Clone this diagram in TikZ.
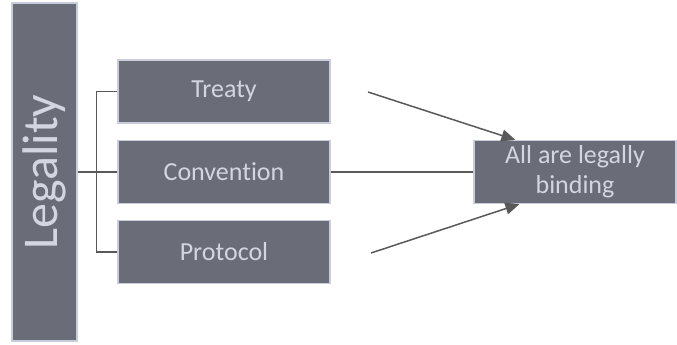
\documentclass[tikz,border=0pt]{standalone}
\usepackage{fontspec}
\setmainfont[Ligatures=NoCommon]{Carlito}
\usetikzlibrary{positioning, arrows.meta}
\definecolor{boxfill}{HTML}{6A6D77}
\definecolor{boxline}{HTML}{C9CDD9}
\definecolor{boxtext}{HTML}{D3D6E0}
\definecolor{linkgray}{HTML}{595959}

\begin{document}
\begin{tikzpicture}[
    x=1pt, y=-1pt,
    block/.style={rectangle, draw=boxline, line width=1.2pt, fill=boxfill, text=boxtext,
        align=center, inner sep=0pt, font=\fontsize{26}{30}\selectfont},
    item/.style={block, minimum width=212pt, minimum height=63pt},
    link/.style={draw=linkgray, line width=1.5pt},
    arr/.style={link, -{Triangle[length=14pt, width=12pt]}}
]
\useasboundingbox (0,0) rectangle (677,345);

% Main column
\node[block, rotate=90, minimum width=338pt, minimum height=65pt,
      font=\fontsize{50}{56}\selectfont] (legal) at (44.5,172) {Legality};

% Three instruments
\node[item] (treaty) at (224,91.5) {Treaty};
\node[item] (conv) at (224,172) {Convention};
\node[item] (proto) at (224,252) {Protocol};

% Outcome
\node[block, minimum width=202pt, minimum height=63pt] (result) at (575,172) {All are legally\\binding};

% Bracket
\draw[link] (legal.south) -- (conv.west);
\draw[link] (treaty.west) -- ++(-21,0) |- (proto.west);

% Links to outcome
\coordinate (fromtreaty) at (368,92);
\coordinate (fromproto) at (371,253);
\draw[link] (conv.east) -- (result.west);
\draw[arr] (fromtreaty) -- ([xshift=42pt]result.north west);
\draw[arr] (fromproto) -- ([xshift=46pt]result.south west);

\end{tikzpicture}
\end{document}
